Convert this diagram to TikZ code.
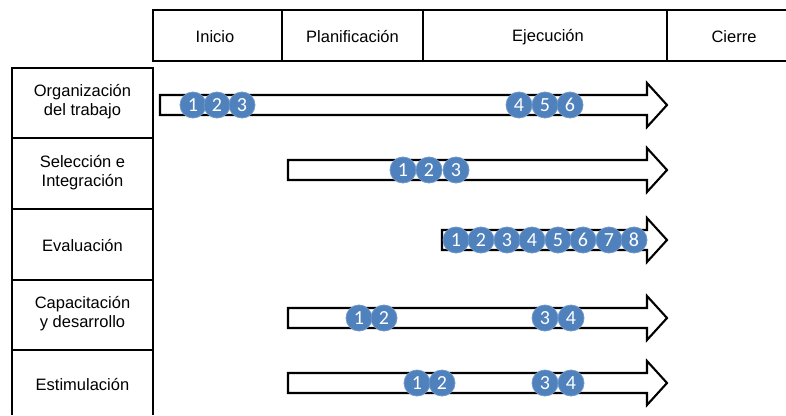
\documentclass[tikz,border=0pt]{standalone}
\usepackage{fontspec}
\setmainfont{Liberation Sans}
\newfontfamily\numfont{Carlito}
\definecolor{ballblue}{RGB}{79,129,189}
\definecolor{balledge}{RGB}{110,150,200}
\newcommand\phasearrow[3]{%
  \draw[arr] (#2,#3-10) -- (647,#3-10) -- (647,#3-22) -- (667,#3) -- (647,#3+22) -- (647,#3+10) -- (#2,#3+10) -- cycle;
  \coordinate (#1) at (#2,#3);}
\begin{document}
\begin{tikzpicture}[x=1pt,y=-1pt,line width=2.1pt,
  hdr/.style={font=\fontsize{16.5}{19}\selectfont},
  lbl/.style={font=\fontsize{16.5}{19}\selectfont,align=center},
  ball/.style={circle,fill=ballblue,draw=balledge,line width=0.8pt,minimum size=26pt,inner sep=0pt,text=white,font=\numfont\fontsize{20}{20}\selectfont},
  arr/.style={draw=black,fill=white,line width=2.1pt,line join=miter}]
\useasboundingbox (0,0) rectangle (786,415);
% header
\draw (786,10) -- (153,10) -- (153,61) -- (786,61);
\foreach \x in {282,423,667} \draw (\x,10) -- (\x,61);
\node[hdr] (hIni) at (215,37) {Inicio};
\node[hdr] (hPla) at (352.5,37) {Planificación};
\node[hdr] (hEje) at (548,37) {Ejecución};
\node[hdr] (hCie) at (734,37) {Cierre};
% left column
\draw (12,415) -- (12,68) -- (153,68) -- (153,415);
\foreach \y in {138,209,280,350} \draw (12,\y) -- (153,\y);
\node[lbl] (lOrg) at (82.5,102) {Organización\\del trabajo};
\node[lbl] (lSel) at (82.5,173) {Selección e\\Integración};
\node[lbl] (lEva) at (82.5,246) {Evaluación};
\node[lbl] (lCap) at (82.5,314) {Capacitación\\y desarrollo};
\node[lbl] (lEst) at (82.5,384) {Estimulación};
% arrows
\phasearrow{a1}{160}{105}
\phasearrow{a2}{288}{170}
\phasearrow{a3}{442}{240}
\phasearrow{a4}{288}{318}
\phasearrow{a5}{288}{383}
% circles row 1
\foreach \n/\x in {1/193,2/217,3/242,4/519,5/545,6/570}
  \node[ball] (r1c\n) at (\x,105) {\n};
% row 2
\foreach \n/\x in {1/403,2/429,3/456}
  \node[ball] (r2c\n) at (\x,170) {\n};
% row 3
\foreach \n/\x in {1/456,2/481,3/507,4/532,5/558,6/583,7/609,8/634}
  \node[ball] (r3c\n) at (\x,240) {\n};
% row 4
\foreach \n/\x in {1/359,2/384,3/545,4/571}
  \node[ball] (r4c\n) at (\x,318) {\n};
% row 5
\foreach \n/\x in {1/417,2/442,3/545,4/571}
  \node[ball] (r5c\n) at (\x,383) {\n};
\end{tikzpicture}
\end{document}
